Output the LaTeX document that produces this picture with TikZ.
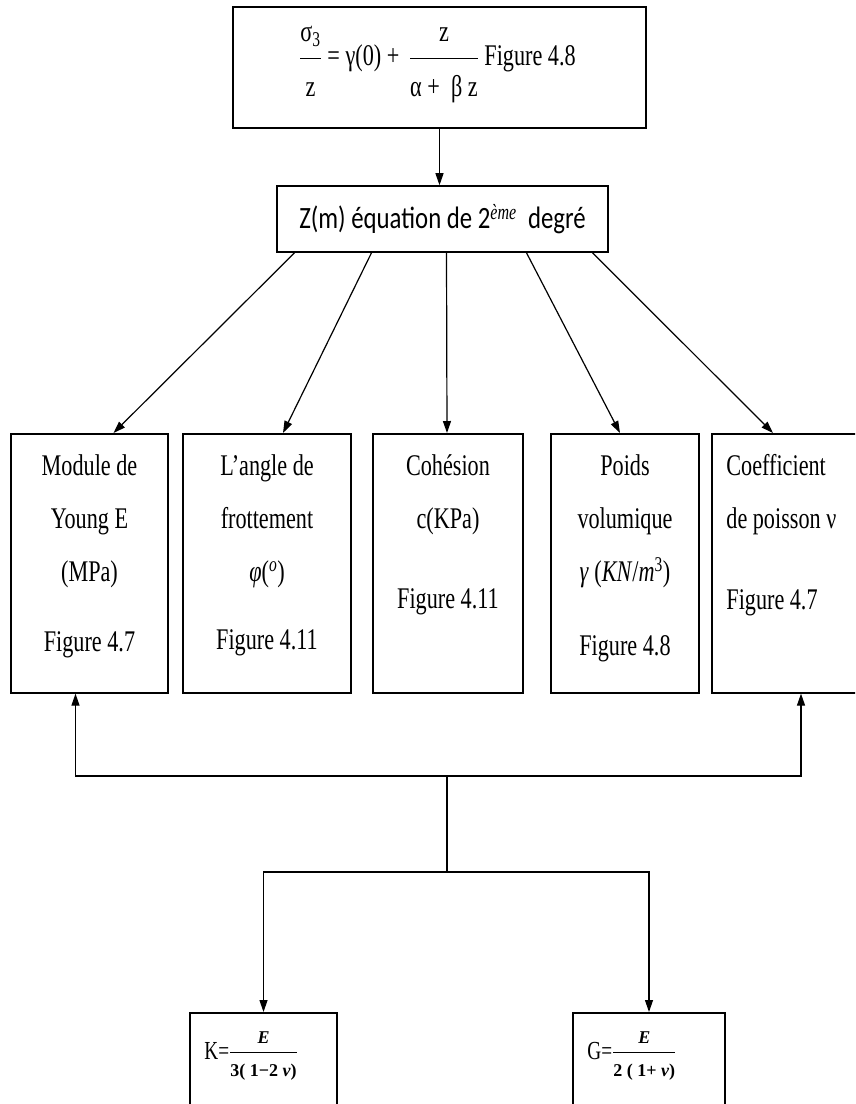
\documentclass[tikz,border=0pt]{standalone}
\usepackage{amsmath}
\usepackage{fontspec}
\setmainfont[FakeStretch=0.74]{Liberation Serif}
\newfontfamily\calibrifont[FakeStretch=0.8]{Carlito}
\newfontfamily\fracfont{Liberation Serif}
\newcommand\fracpart[1]{\text{\fracfont\fontsize{18}{20}\selectfont\bfseries #1}}
\usetikzlibrary{arrows.meta,positioning}

\begin{document}
\begin{tikzpicture}[
  x=1pt, y=-1pt,
  box/.style={draw, line width=1.6pt, inner sep=0pt},
  param/.style={box, minimum height=259pt, anchor=north},
  ptext/.style={inner sep=0pt, align=center, anchor=north,
    font=\fontsize{30}{53}\selectfont},
  modbox/.style={box, minimum height=110pt, anchor=north},
  modtext/.style={inner sep=0pt, anchor=west, font=\fontsize{26}{30}\selectfont},
  arrow/.style={-{Triangle[length=12pt,width=8pt]}, line width=1.2pt},
  link/.style={line width=1.2pt},
  node distance=21pt,
]
\path[use as bounding box, clip] (0,0) rectangle (855,1104);

% sigma_3 / z relation
\node[box, minimum width=413pt, minimum height=121pt] (eq) at (439.5,67.5) {};
\node[inner sep=0pt, anchor=base, font=\fontsize{30}{36}\selectfont] (eqtext) at (437.5,65)
  {$\dfrac{\text{σ}_{\text{3}}\rule[-14pt]{0pt}{0pt}}{\rule{0pt}{34pt}\text{z}}\text{ = γ(0) + }\,
    \dfrac{\text{z}\rule[-14pt]{0pt}{0pt}}{\rule{0pt}{34pt}\text{α +\ \ β z}}$ Figure 4.8};

% depth from the 2nd degree equation
\node[box, minimum width=331pt, minimum height=66pt, font=\calibrifont\fontsize{31}{36}\selectfont] (zm) at (442.5,219)
  {Z(m) équation de 2\textsuperscript{\rmfamily\itshape ème}\ \ degré};

% soil parameters
\node[param, minimum width=157pt] (young) at (89.5,433) {};
\node[param, minimum width=168pt] (phi) at (267,433) {};
\node[param, minimum width=150pt] (coh) at (448,433) {};
\node[param, minimum width=148pt] (poids) at (625,433) {};
\node[param, minimum width=158pt] (poisson) at (791,433) {};

\node[ptext, below=of young.north] (tyoung) {Module de\\Young E\\(MPa)\\[17pt]Figure 4.7};
\node[ptext, below=of phi.north] (tphi) {L’angle de\\frottement\\\textit{φ}(\textsuperscript{\textit{o}})\\[15pt]Figure 4.11};
\node[ptext, below=of coh.north] (tcoh) {Cohésion\\c(KPa)\\[27pt]Figure 4.11};
\node[ptext, below=of poids.north] (tpoids) {Poids\\volumique\\\textit{γ} (\textit{KN}/\textit{m}\textsuperscript{3})\\[21pt]Figure 4.8};
\node[ptext, anchor=north west, align=left] (tpoisson) at ([xshift=15pt,yshift=-21pt]poisson.north west)
  {Coefficient\\de poisson ν\\[28pt]Figure 4.7};

% moduli
\node[modbox, minimum width=147pt] (kmod) at (263.5,1012) {};
\node[modbox, minimum width=152pt] (gmod) at (649,1012) {};
\node[modtext] (tk) at ([xshift=15pt,yshift=-44pt]kmod.north west)
  {K=$\frac{\fracpart{\itshape E}\rule[-8pt]{0pt}{0pt}}{\rule{0pt}{22pt}\fracpart{3( 1−2 \itshape ν\/\upshape)}}$};
\node[modtext] (tg) at ([xshift=15pt,yshift=-44pt]gmod.north west)
  {G=$\frac{\fracpart{\itshape E}\rule[-8pt]{0pt}{0pt}}{\rule{0pt}{22pt}\fracpart{2 ( 1+ \itshape ν\/\upshape)}}$};

% arrows
\draw[arrow] (eq.south) -- (eq.south |- zm.north);
\foreach \b/\s/\e in {young/-148/24, phi/-71/16, coh/4/-1, poids/84/-5, poisson/150/-18} {
  \draw[arrow] ([xshift=\s pt]zm.south) -- ([xshift=\e pt]\b.north);
}

\coordinate (split) at (447,776);
\coordinate (fork) at (447,872);
\draw[arrow] (split) -| ([xshift=-14pt]young.south);
\draw[arrow] (split) -| ([xshift=10pt]poisson.south);
\draw[link] (split) -- (fork);
\draw[arrow] (fork) -| (kmod.north);
\draw[arrow] (fork) -| (gmod.north);

\end{tikzpicture}
\end{document}
